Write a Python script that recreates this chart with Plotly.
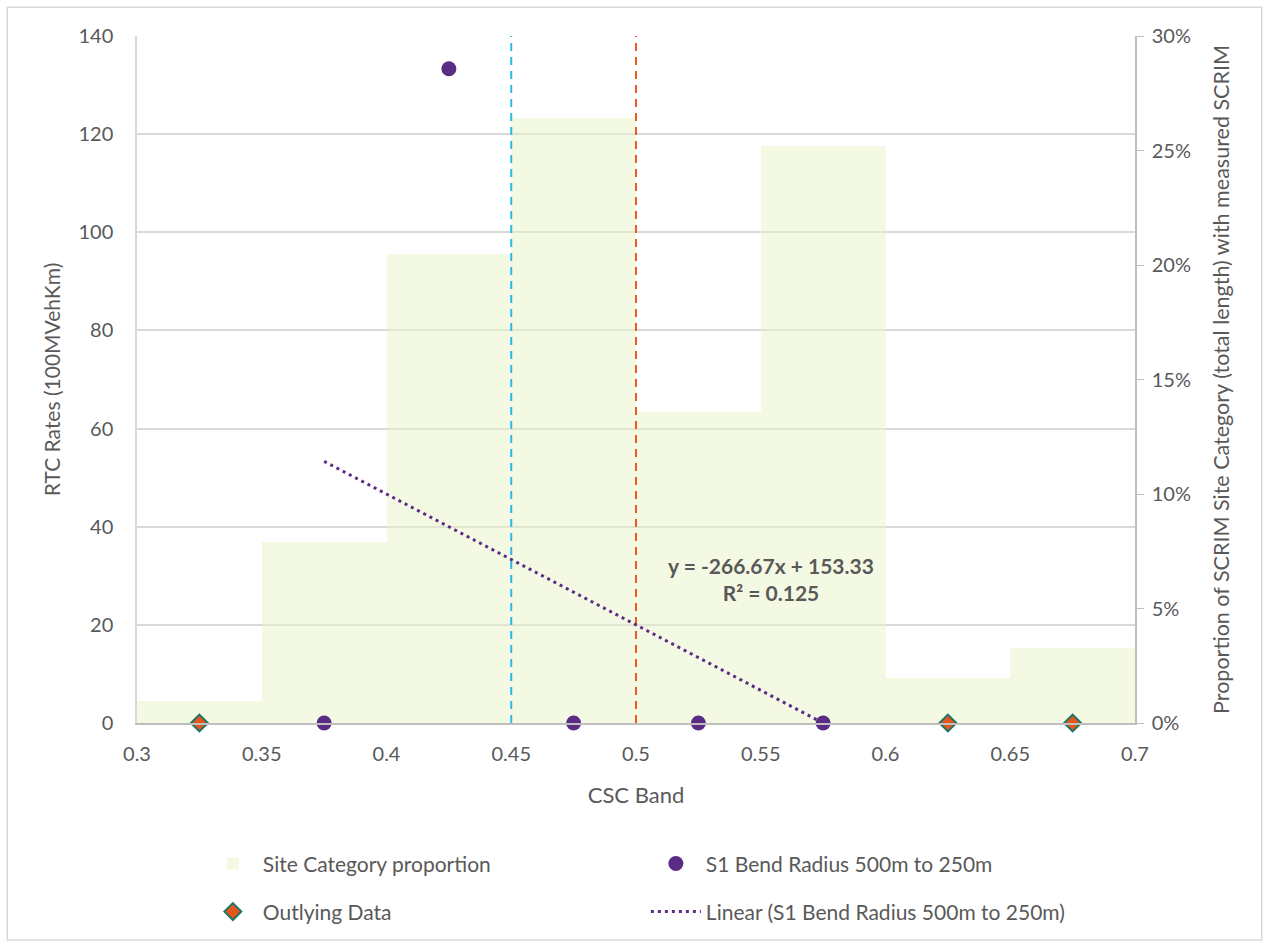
import plotly.graph_objects as go

# ---- data ----
band_centres = [0.325, 0.375, 0.425, 0.475, 0.525, 0.575, 0.625, 0.675]
site_proportion = [0.0096, 0.079, 0.205, 0.264, 0.136, 0.252, 0.0197, 0.0328]

s1_x = [0.375, 0.425, 0.475, 0.525, 0.575]
s1_y = [0, 133.33, 0, 0, 0]

outlying_x = [0.325, 0.625, 0.675]
outlying_y = [0, 0, 0]

trend_slope = -266.67
trend_intercept = 153.33
trend_x = [0.375, 0.575]
trend_y = [trend_slope * v + trend_intercept for v in trend_x]

threshold_x = [0.45, 0.5]
threshold_colors = ["#2DB7E8", "#EE5A1E"]
left_range = [0, 140]

x_ticks = [0.3, 0.35, 0.4, 0.45, 0.5, 0.55, 0.6, 0.65, 0.7]
x_tick_labels = ["0.3", "0.35", "0.4", "0.45", "0.5", "0.55", "0.6", "0.65", "0.7"]

FONT = "Lato, 'Open Sans', sans-serif"
TXT = "#595959"
PURPLE = "#5B2C86"

fig = go.Figure()

# bars on the primary (right-hand) percentage axis -> drawn underneath
fig.add_trace(go.Bar(
    x=band_centres, y=site_proportion, width=0.05,
    name="Site Category proportion", yaxis="y", legend="legend",
    marker=dict(color="rgba(233,243,199,0.5)", line=dict(width=0)),
))

for xv, col in zip(threshold_x, threshold_colors):
    fig.add_trace(go.Scatter(
        x=[xv, xv], y=left_range, mode="lines", showlegend=False, yaxis="y2",
        line=dict(color=col, width=2, dash="8px,6px"), hoverinfo="skip",
    ))

fig.add_trace(go.Scatter(
    x=outlying_x, y=outlying_y, mode="markers", name="Outlying Data",
    yaxis="y2", legend="legend2", cliponaxis=False,
    marker=dict(color="#E5561A", size=13, symbol="diamond",
                line=dict(color="#1E7468", width=2)),
))

fig.add_trace(go.Scatter(
    x=trend_x, y=trend_y, mode="lines", name="Linear (S1 Bend Radius 500m to 250m)",
    yaxis="y2", legend="legend2",
    line=dict(color=PURPLE, width=3, dash="3px,4px"),
))

fig.add_trace(go.Scatter(
    x=s1_x, y=s1_y, mode="markers", name="S1 Bend Radius 500m to 250m",
    yaxis="y2", legend="legend", cliponaxis=False,
    marker=dict(color=PURPLE, size=15, symbol="circle"),
))

fig.add_annotation(
    x=0.554, y=29.3, xref="x", yref="y2",
    text="<b>y = -266.67x + 153.33<br>R² = 0.125</b>",
    showarrow=False, font=dict(family=FONT, size=21, color=TXT), align="center",
)

legend_common = dict(
    orientation="h", x=0.066, xanchor="left", yanchor="middle",
    entrywidth=378, entrywidthmode="pixels", itemwidth=50,
    font=dict(size=21, color=TXT, family=FONT), bgcolor="rgba(0,0,0,0)",
    traceorder="normal",
)

fig.update_layout(
    width=1269, height=944,
    margin=dict(l=137, r=134, t=36, b=221, autoexpand=False),
    paper_bgcolor="white", plot_bgcolor="white",
    font=dict(family=FONT, size=20, color=TXT),
    bargap=0,
    xaxis=dict(
        range=[0.3, 0.7], tickvals=x_ticks, ticktext=x_tick_labels,
        showgrid=False, showline=True, linecolor="#BFBFBF", linewidth=1.5,
        ticks="", zeroline=False, ticklabelstandoff=12,
        title=dict(text="CSC Band", font=dict(size=22), standoff=24),
        tickfont=dict(size=20),
    ),
    yaxis=dict(
        range=[0, 0.30], dtick=0.05, tickformat=".0%", side="right",
        showgrid=False, showline=True, linecolor="#BFBFBF", linewidth=1.5,
        ticks="outside", ticklen=7, tickcolor="#BFBFBF", zeroline=False,
        ticklabelstandoff=4,
        title=dict(text="Proportion of SCRIM Site Category (total length) with measured SCRIM",
                   font=dict(size=21.5), standoff=24),
        tickfont=dict(size=20),
    ),
    yaxis2=dict(
        range=left_range, dtick=20, overlaying="y", side="left",
        showgrid=True, gridcolor="#D9D9D9", gridwidth=1.5,
        showline=True, linecolor="#D9D9D9", linewidth=1.5, zeroline=False, ticks="",
        ticklabelstandoff=18,
        title=dict(text="RTC Rates (100MVehKm)", font=dict(size=21), standoff=12),
        tickfont=dict(size=20),
    ),
    legend=dict(legend_common, y=-0.205),
    legend2=dict(legend_common, y=-0.275),
    shapes=[dict(type="rect", xref="paper", yref="paper",
                 x0=-0.130, x1=1.127, y0=-0.316, y1=1.042,
                 line=dict(color="#D9D9D9", width=1.5), layer="below")],
)

fig.write_html("out.html")
